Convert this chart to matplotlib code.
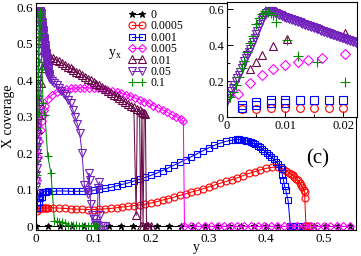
import matplotlib
matplotlib.use("Agg")
import matplotlib.pyplot as plt
from matplotlib.ticker import MultipleLocator

plt.rcParams['font.family'] = ['Liberation Serif', 'DejaVu Serif']
plt.rcParams['mathtext.fontset'] = 'custom'
plt.rcParams['mathtext.rm'] = 'Liberation Serif'
plt.rcParams['mathtext.it'] = 'Liberation Serif:italic'

# ---------------- data ----------------
labels = ["0", "0.0005", "0.001", "0.005", "0.01", "0.05", "0.1"]

x_0 = [0.0, 0.021, 0.042, 0.063, 0.084, 0.105, 0.126, 0.147, 0.168, 0.189, 0.21,
       0.231, 0.252, 0.273, 0.294, 0.315, 0.336, 0.357, 0.378, 0.399, 0.42,
       0.441, 0.462, 0.483, 0.504, 0.525, 0.546]
y_0 = [0.0] * len(x_0)

x_0005 = [0.0025, 0.005, 0.0075, 0.01, 0.0125, 0.015, 0.0175, 0.02,
          0.03, 0.04, 0.05, 0.06, 0.07, 0.08, 0.09, 0.10, 0.11, 0.12, 0.13, 0.14,
          0.15, 0.16, 0.17, 0.18, 0.19, 0.20, 0.21, 0.22, 0.23, 0.24, 0.25, 0.26,
          0.27, 0.28, 0.29, 0.30, 0.31, 0.32, 0.33, 0.34, 0.35, 0.36, 0.37, 0.38,
          0.39, 0.40, 0.41, 0.42, 0.43, 0.435, 0.44, 0.443, 0.446, 0.449, 0.452,
          0.455, 0.458, 0.461, 0.463, 0.465, 0.467, 0.467, 0.469, 0.472, 0.476]
y_0005 = [0.042, 0.047, 0.049, 0.05, 0.05, 0.05, 0.05, 0.05,
          0.051, 0.05, 0.049, 0.048, 0.047, 0.047, 0.046, 0.046, 0.047, 0.048, 0.049, 0.051,
          0.053, 0.055, 0.057, 0.059, 0.061, 0.064, 0.068, 0.072, 0.076, 0.080, 0.085, 0.089,
          0.094, 0.098, 0.103, 0.108, 0.113, 0.118, 0.123, 0.128, 0.133, 0.139, 0.145, 0.150,
          0.155, 0.159, 0.162, 0.163, 0.157, 0.152, 0.147, 0.144, 0.140, 0.136, 0.131,
          0.126, 0.120, 0.113, 0.107, 0.100, 0.093, 0.079, 0.0, 0.0, 0.0]

x_001 = [0.0025, 0.0025, 0.005, 0.005, 0.0075, 0.0075, 0.01, 0.01, 0.0125, 0.015,
         0.0175, 0.02, 0.03, 0.04, 0.05, 0.06, 0.07, 0.08, 0.09, 0.10, 0.11, 0.12,
         0.13, 0.14, 0.15, 0.16, 0.17, 0.18, 0.19, 0.20, 0.21, 0.22, 0.23, 0.24,
         0.25, 0.26, 0.27, 0.28, 0.29, 0.30, 0.31, 0.32, 0.33, 0.34, 0.345, 0.349,
         0.353, 0.357, 0.361, 0.365, 0.369, 0.373, 0.377, 0.381, 0.385, 0.389,
         0.393, 0.397, 0.401, 0.405, 0.409, 0.413, 0.417, 0.421, 0.425, 0.427,
         0.428, 0.43, 0.432, 0.434, 0.438, 0.442, 0.447, 0.452, 0.458]
y_001 = [0.05, 0.066, 0.068, 0.083, 0.078, 0.092, 0.08, 0.094, 0.094, 0.095,
         0.095, 0.096, 0.096, 0.097, 0.097, 0.096, 0.096, 0.096, 0.097, 0.099, 0.101, 0.104,
         0.107, 0.111, 0.115, 0.119, 0.124, 0.129, 0.134, 0.140, 0.146, 0.153, 0.160, 0.168,
         0.175, 0.183, 0.191, 0.199, 0.207, 0.215, 0.222, 0.228, 0.233, 0.236, 0.237, 0.238,
         0.238, 0.237, 0.236, 0.235, 0.233, 0.231, 0.228, 0.225, 0.221, 0.217,
         0.212, 0.207, 0.202, 0.196, 0.190, 0.184, 0.177, 0.170, 0.162, 0.158,
         0.140, 0.126, 0.110, 0.099, 0.071, 0.0, 0.0, 0.0, 0.0]

x_005 = [0.0019, 0.004, 0.006, 0.008, 0.01, 0.0122, 0.014, 0.0164, 0.0203,
         0.028, 0.036, 0.044, 0.052, 0.06, 0.068, 0.076, 0.084, 0.092, 0.10, 0.108,
         0.116, 0.124, 0.132, 0.14, 0.148, 0.156, 0.164, 0.172, 0.18, 0.188, 0.196,
         0.204, 0.212, 0.22, 0.228, 0.236, 0.244, 0.252, 0.256, 0.258, 0.27, 0.281,
         0.293, 0.304, 0.316, 0.327, 0.339, 0.35, 0.362, 0.373, 0.385, 0.396, 0.408,
         0.419, 0.431, 0.442, 0.454, 0.465, 0.477, 0.488, 0.5, 0.511, 0.523, 0.534, 0.546]
y_005 = [0.126, 0.19, 0.233, 0.265, 0.29, 0.306, 0.32, 0.33, 0.35,
         0.36, 0.368, 0.373, 0.376, 0.378, 0.379, 0.38, 0.38, 0.38, 0.379, 0.378,
         0.376, 0.374, 0.371, 0.368, 0.365, 0.361, 0.357, 0.352, 0.347, 0.342, 0.337,
         0.331, 0.325, 0.319, 0.313, 0.306, 0.300, 0.293, 0.288, 0.0, 0.0, 0.0,
         0.0, 0.0, 0.0, 0.0, 0.0, 0.0, 0.0, 0.0, 0.0, 0.0, 0.0,
         0.0, 0.0, 0.0, 0.0, 0.0, 0.0, 0.0, 0.0, 0.0, 0.0, 0.0, 0.0]

x_01 = [0.004, 0.005, 0.006, 0.008, 0.0103, 0.0203, 0.025, 0.03, 0.035, 0.04, 0.045,
        0.05, 0.055, 0.06, 0.065, 0.07, 0.075, 0.08, 0.085, 0.09, 0.095, 0.10, 0.105,
        0.11, 0.115, 0.12, 0.125, 0.13, 0.135, 0.14, 0.145, 0.15, 0.155, 0.16, 0.165,
        0.17, 0.174, 0.176, 0.18, 0.182, 0.184, 0.186, 0.188, 0.19, 0.192, 0.195, 0.2]
y_01 = [0.267, 0.306, 0.344, 0.394, 0.433, 0.47, 0.465, 0.461, 0.456, 0.452, 0.447,
        0.443, 0.438, 0.433, 0.429, 0.424, 0.419, 0.415, 0.410, 0.405, 0.400, 0.395, 0.391,
        0.386, 0.381, 0.376, 0.371, 0.366, 0.361, 0.356, 0.351, 0.346, 0.341, 0.336, 0.331,
        0.326, 0.03, 0.322, 0.318, 0.0, 0.314, 0.0, 0.31, 0.307, 0.0, 0.0, 0.0]

x_05 = [0.0, 0.00025, 0.0005, 0.00075, 0.001, 0.00125, 0.0015, 0.00175, 0.002, 0.00225,
        0.0025, 0.00275, 0.003, 0.00325, 0.0035, 0.00375, 0.004, 0.00425, 0.0045, 0.00475,
        0.005, 0.00525, 0.0055, 0.00575, 0.006, 0.00625, 0.0065, 0.00675, 0.007, 0.00725,
        0.0075, 0.00775, 0.008, 0.00825, 0.0085, 0.00875, 0.009, 0.00925, 0.0095, 0.00975,
        0.01, 0.01025, 0.0105, 0.01075, 0.011, 0.01125, 0.0115, 0.01175, 0.012, 0.01225,
        0.0125, 0.01275, 0.013, 0.01325, 0.0135, 0.01375, 0.014, 0.01425, 0.0145, 0.01475,
        0.015, 0.01525, 0.0155, 0.01575, 0.016, 0.01625, 0.0165, 0.01675, 0.017, 0.01725,
        0.0175, 0.01775, 0.018, 0.01825, 0.0185, 0.01875, 0.019, 0.01925, 0.0195, 0.01975,
        0.02, 0.02025, 0.0205, 0.02075, 0.021, 0.02125, 0.0215, 0.02175, 0.022, 0.02225,
        0.0225,
        0.024, 0.028, 0.032, 0.036, 0.04, 0.044, 0.048, 0.052, 0.056, 0.06, 0.064,
        0.068, 0.072, 0.076, 0.08, 0.084, 0.088, 0.09, 0.092, 0.093, 0.095, 0.098,
        0.1, 0.102, 0.104, 0.106, 0.108, 0.11, 0.111, 0.113, 0.116, 0.12]
y_05 = [0.09, 0.107, 0.125, 0.142, 0.16, 0.18, 0.2, 0.217, 0.235, 0.252,
        0.27, 0.29, 0.31, 0.327, 0.345, 0.362, 0.38, 0.40, 0.42, 0.44,
        0.46, 0.48, 0.5, 0.52, 0.54, 0.555, 0.57, 0.578, 0.585, 0.588,
        0.59, 0.588, 0.585, 0.581, 0.578, 0.574, 0.57, 0.566, 0.563, 0.559,
        0.556, 0.553, 0.55, 0.547, 0.544, 0.541, 0.538, 0.535, 0.532, 0.529,
        0.526, 0.523, 0.52, 0.517, 0.514, 0.511, 0.508, 0.505, 0.502, 0.499,
        0.496, 0.493, 0.49, 0.487, 0.484, 0.481, 0.478, 0.475, 0.472, 0.469,
        0.466, 0.463, 0.46, 0.457, 0.455, 0.452, 0.45, 0.447, 0.444, 0.441,
        0.438, 0.435, 0.432, 0.43, 0.427, 0.424, 0.421, 0.418, 0.416, 0.413,
        0.41,
        0.405, 0.398, 0.392, 0.386, 0.38, 0.372, 0.364, 0.356, 0.347, 0.337, 0.32,
        0.30, 0.28, 0.255, 0.2, 0.112, 0.1, 0.09, 0.145, 0.126, 0.06, 0.03,
        0.02, 0.01, 0.0, 0.005, 0.105, 0.122, 0.03, 0.0, 0.0, 0.0]

x_1 = [0.0005, 0.001, 0.0015, 0.002, 0.0025, 0.003, 0.0035, 0.004, 0.0045, 0.005,
       0.0055, 0.006, 0.0065, 0.007, 0.0075, 0.008, 0.0085, 0.0103, 0.0122, 0.0155,
       0.0203, 0.026, 0.032, 0.036, 0.04, 0.045, 0.05, 0.055, 0.06, 0.065, 0.07,
       0.075, 0.08, 0.085, 0.09, 0.095, 0.1, 0.105, 0.11]
y_1 = [0.11, 0.14, 0.18, 0.22, 0.27, 0.31, 0.36, 0.41, 0.45, 0.52,
       0.55, 0.575, 0.59, 0.585, 0.58, 0.565, 0.53, 0.43, 0.339, 0.306,
       0.194, 0.145, 0.015, 0.014, 0.013, 0.012, 0.01, 0.004, 0.003, 0.003, 0.003,
       0.002, 0.002, 0.002, 0.002, 0.002, 0.002, 0.002, 0.002]

series = [
    (x_0, y_0, "black", "*"),
    (x_0005, y_0005, "#ff0000", "o"),
    (x_001, y_001, "#0000ff", "s"),
    (x_005, y_005, "#ff00ff", "D"),
    (x_01, y_01, "#670748", "^"),
    (x_05, y_05, "#7221bc", "v"),
    (x_1, y_1, "#008b00", "+"),
]
msizes = {"*": 5, "o": 5, "s": 4.6, "D": 4.0, "^": 5.2, "v": 5.2, "+": 6}

# ---------------- figure ----------------
fig = plt.figure(figsize=(3.61, 2.56), dpi=100)
ax = fig.add_axes([36 / 361, 1 - 230 / 256, 320 / 361, 227 / 256])

for (xs, ys, c, m), lab in zip(series, labels):
    filled = (m == "*")
    ax.plot(xs, ys, color=c, lw=0.75, marker=m, ms=msizes[m],
            mfc=c if filled else "none", mec=c, mew=0.8, label=lab)

ax.set_xlim(0, 0.556)
ax.set_ylim(-0.01, 0.612)
ax.xaxis.set_minor_locator(MultipleLocator(0.05))
ax.yaxis.set_minor_locator(MultipleLocator(0.05))
ax.set_xticks([0, 0.1, 0.2, 0.3, 0.4, 0.5])
ax.set_xticklabels(["0", "0.1", "0.2", "0.3", "0.4", "0.5"])
ax.set_yticks([0, 0.1, 0.2, 0.3, 0.4, 0.5, 0.6])
ax.set_yticklabels(["0", "0.1", "0.2", "0.3", "0.4", "0.5", "0.6"])
ax.tick_params(which="both", direction="in", labelsize=9.5, pad=2, width=0.7)
ax.tick_params(which="major", length=4)
ax.tick_params(which="minor", length=2)
for s in ax.spines.values():
    s.set_linewidth(0.8)
ax.set_xlabel("y", fontsize=10, labelpad=-3)
ax.set_ylabel("X coverage", fontsize=10, labelpad=1)

leg = ax.legend(loc="upper left", bbox_to_anchor=(128 / 361, 1 - 9 / 256),
                bbox_transform=fig.transFigure, frameon=False, fontsize=8.6,
                numpoints=2, handlelength=1.5, handletextpad=0.4,
                labelspacing=-0.05, borderpad=0, borderaxespad=0)

fig.text(108 / 361, 1 - 54 / 256, r"$\mathregular{y_x}$", fontsize=10,
         ha="left", va="center")
ax.text(0.49, 0.185, "(c)", fontsize=15, ha="center", va="center")

# ---------------- inset ----------------
axi = fig.add_axes([227 / 361, 1 - 117 / 256, 130 / 361, 115 / 256])
axi.set_facecolor("white")
for (xs, ys, c, m), lab in zip(series[1:], labels[1:]):
    axi.plot(xs, ys, color=c, ls="none", marker=m, ms=msizes[m] + 0.6,
             mfc="none", mec=c, mew=0.8)
axi.set_xlim(0, 0.0224)
axi.set_ylim(0, 0.64)
axi.set_xticks([0, 0.01, 0.02])
axi.set_xticklabels(["0", "0.01", "0.02"])
axi.set_yticks([0, 0.2, 0.4, 0.6])
axi.set_yticklabels(["0", "0.2", "0.4", "0.6"])
axi.xaxis.set_minor_locator(MultipleLocator(0.005))
axi.yaxis.set_minor_locator(MultipleLocator(0.1))
axi.tick_params(which="both", direction="in", labelsize=9, pad=2, width=0.7)
axi.tick_params(which="major", length=4)
axi.tick_params(which="minor", length=2)
for s in axi.spines.values():
    s.set_linewidth(0.8)

fig.savefig("out.png", dpi=100)
